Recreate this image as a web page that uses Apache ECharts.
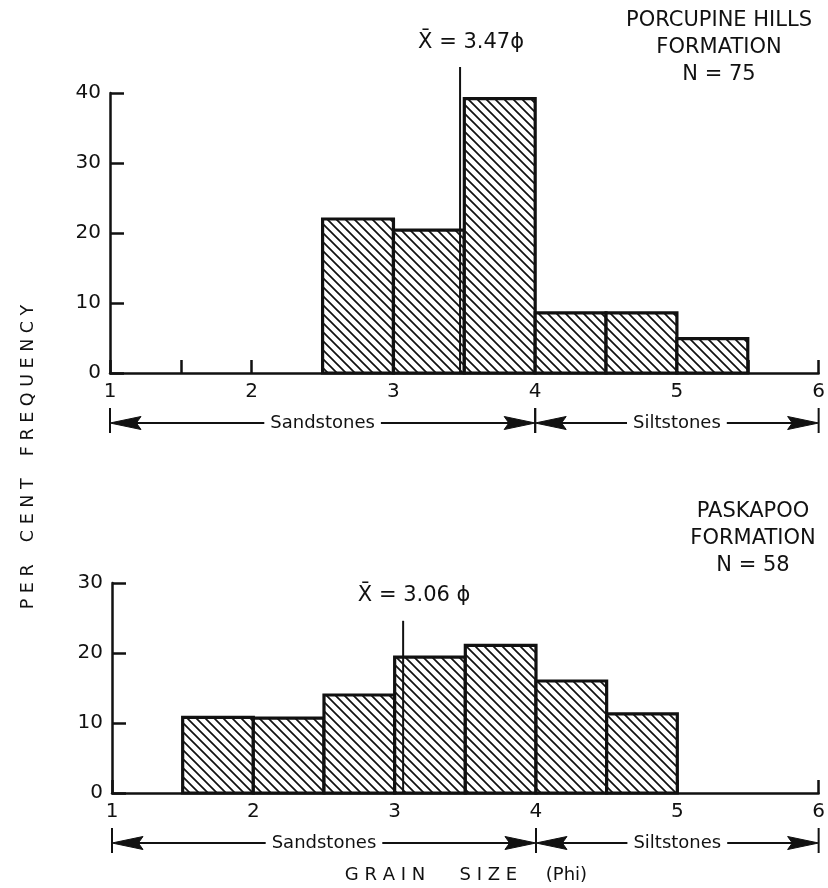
<!DOCTYPE html>
<html>
<head>
<meta charset="utf-8">
<title>Grain size distribution</title>
<script src="https://cdn.jsdelivr.net/npm/echarts@6/dist/echarts.min.js"></script>
<style>
  html, body { margin: 0; padding: 0; background: #fff; }
  #chart { width: 828px; height: 888px; }
</style>
</head>
<body>
<div id="chart"></div>
<script>
// Grain-size class intervals (phi) and per cent frequency in each class
const porcupineBins = [[2.5, 3], [3, 3.5], [3.5, 4], [4, 4.5], [4.5, 5], [5, 5.5]];
const porcupineFreq = [22, 20.4, 39.2, 8.6, 8.6, 4.9];
const porcupineMean = 3.47;
const porcupineTitle = ['PORCUPINE HILLS', 'FORMATION', 'N = 75'];

const paskapooBins = [[1.5, 2], [2, 2.5], [2.5, 3], [3, 3.5], [3.5, 4], [4, 4.5], [4.5, 5]];
const paskapooFreq = [10.8, 10.7, 14, 19.4, 21.1, 16, 11.3];
const paskapooMean = 3.06;
const paskapooTitle = ['PASKAPOO', 'FORMATION', 'N = 58'];

// Rock classes along the phi scale
const rockClasses = ['Sandstones', 'Siltstones'];
const rockClassRanges = [[1, 4], [4, 6]];

const phiMin = 1, phiMax = 6;

const ink = '#111';
const FONT = '"DejaVu Sans", "Open Sans", sans-serif';

// Diagonal (\\\) hatching used to fill the histogram bars
function makeHatch() {
  const s = 9;
  const c = document.createElement('canvas');
  c.width = s; c.height = s;
  const g = c.getContext('2d');
  g.fillStyle = '#fff';
  g.fillRect(0, 0, s, s);
  g.strokeStyle = ink;
  g.lineWidth = 1.7;
  g.beginPath();
  g.moveTo(-1, -1); g.lineTo(s + 1, s + 1);
  g.moveTo(-1, s - 1); g.lineTo(1, s + 1);
  g.moveTo(s - 1, -1); g.lineTo(s + 1, 1);
  g.stroke();
  return c;
}
const hatch = { image: makeHatch(), repeat: 'repeat' };

function histData(bins, freq) {
  return bins.map((b, i) => [b[0], b[1], freq[i]]);
}

function histSeries(idx, bins, freq) {
  return {
    type: 'custom',
    xAxisIndex: idx, yAxisIndex: idx,
    clip: false,
    z: 3,
    data: histData(bins, freq),
    renderItem(params, api) {
      const tl = api.coord([api.value(0), api.value(2)]);
      const br = api.coord([api.value(1), 0]);
      return {
        type: 'rect',
        shape: { x: tl[0], y: tl[1], width: br[0] - tl[0], height: br[1] - tl[1] },
        style: { fill: hatch, stroke: ink, lineWidth: 3.2 }
      };
    }
  };
}

// Vertical line marking the mean grain size, with its label
function meanSeries(idx, mean, lineTop, sep) {
  return {
    type: 'custom',
    xAxisIndex: idx, yAxisIndex: idx,
    clip: false,
    z: 4,
    data: [[mean, lineTop]],
    renderItem(params, api) {
      const p0 = api.coord([api.value(0), 0]);
      const p1 = api.coord([api.value(0), api.value(1)]);
      return {
        type: 'group',
        children: [
          { type: 'line', shape: { x1: p0[0], y1: p0[1], x2: p1[0], y2: p1[1] },
            style: { stroke: ink, lineWidth: 2 } },
          { type: 'text',
            style: { text: 'X\u0304 = ' + api.value(0).toFixed(2) + sep + '\u03D5',
                     x: p1[0] + 11, y: p1[1] - 25, align: 'center', verticalAlign: 'middle',
                     fill: ink, font: '21px ' + FONT } }
        ]
      };
    }
  };
}

// Double-headed arrows naming the rock class below the phi axis
function classSeries(idx) {
  return {
    type: 'custom',
    xAxisIndex: idx, yAxisIndex: idx,
    clip: false,
    z: 4,
    data: rockClassRanges.map((r, i) => [r[0], r[1], i]),
    renderItem(params, api) {
      const a = api.coord([api.value(0), 0]);
      const b = api.coord([api.value(1), 0]);
      const y = a[1] + 50;
      const L = 31, h = 6.5;
      const head = (tipX, dir) => ({
        type: 'polygon',
        shape: { points: [[tipX, y], [tipX + dir * L, y - h], [tipX + dir * L * 0.85, y], [tipX + dir * L, y + h]] },
        style: { fill: ink, stroke: ink, lineWidth: 1 }
      });
      const bar = (x) => ({
        type: 'line', shape: { x1: x, y1: y - 15, x2: x, y2: y + 10 },
        style: { stroke: ink, lineWidth: 2 }
      });
      return {
        type: 'group',
        children: [
          { type: 'line', shape: { x1: a[0] + 4, y1: y, x2: b[0] - 4, y2: y },
            style: { stroke: ink, lineWidth: 2 } },
          head(a[0], 1),
          head(b[0], -1),
          bar(a[0]), bar(b[0]),
          { type: 'text', z2: 10,
            style: { text: rockClasses[api.value(2)], x: (a[0] + b[0]) / 2, y: y,
                     align: 'center', verticalAlign: 'middle', fill: ink,
                     font: '18px ' + FONT, backgroundColor: '#fff', padding: [2, 6] } }
        ]
      };
    }
  };
}

function xAxisCfg(idx, interval) {
  return {
    gridIndex: idx, type: 'value', min: phiMin, max: phiMax, interval: interval,
    axisLine: { show: true, onZero: true, lineStyle: { color: ink, width: 2.5 } },
    axisTick: { show: true, inside: true, length: 13, lineStyle: { color: ink, width: 2.5 } },
    axisLabel: { margin: 9, color: ink, fontSize: 20, fontFamily: FONT,
                 formatter: v => (Number.isInteger(v) ? String(v) : '') },
    splitLine: { show: false }
  };
}

function yAxisCfg(idx, max) {
  return {
    gridIndex: idx, type: 'value', min: 0, max: max, interval: 10,
    axisLine: { show: true, lineStyle: { color: ink, width: 2.5 } },
    axisTick: { show: true, inside: true, length: 14, lineStyle: { color: ink, width: 2.5 } },
    axisLabel: { margin: 9, color: ink, fontSize: 20, fontFamily: FONT },
    splitLine: { show: false }
  };
}

const chart = echarts.init(document.getElementById('chart'), null, { renderer: 'canvas' });

chart.setOption({
  animation: false,
  backgroundColor: '#fff',
  grid: [
    { left: 110, top: 93, width: 712, height: 280 },
    { left: 112, top: 583, width: 710, height: 210 }
  ],
  xAxis: [xAxisCfg(0, 0.5), xAxisCfg(1, 1)],
  yAxis: [yAxisCfg(0, 40), yAxisCfg(1, 30)],
  graphic: [
    { type: 'text', x: 719, y: 48,
      style: { text: porcupineTitle.join('\n'), align: 'center', verticalAlign: 'middle',
               lineHeight: 27, fill: ink, font: '21px ' + FONT } },
    { type: 'text', x: 753, y: 539,
      style: { text: paskapooTitle.join('\n'), align: 'center', verticalAlign: 'middle',
               lineHeight: 27, fill: ink, font: '21px ' + FONT } },
    { type: 'text', x: 28, y: 457, rotation: Math.PI / 2,
      style: { text: 'P E R    C E N T    F R E Q U E N C Y', align: 'center', verticalAlign: 'middle',
               fill: ink, font: '17.5px ' + FONT } },
    { type: 'text', x: 466, y: 875,
      style: { text: 'G R A I N      S I Z E     (Phi)', align: 'center', verticalAlign: 'middle',
               fill: ink, font: '18px ' + FONT } }
  ],
  series: [
    histSeries(0, porcupineBins, porcupineFreq),
    histSeries(1, paskapooBins, paskapooFreq),
    meanSeries(0, porcupineMean, 43.7, ''),
    meanSeries(1, paskapooMean, 24.6, ' '),
    classSeries(0),
    classSeries(1)
  ]
});
</script>
</body>
</html>
